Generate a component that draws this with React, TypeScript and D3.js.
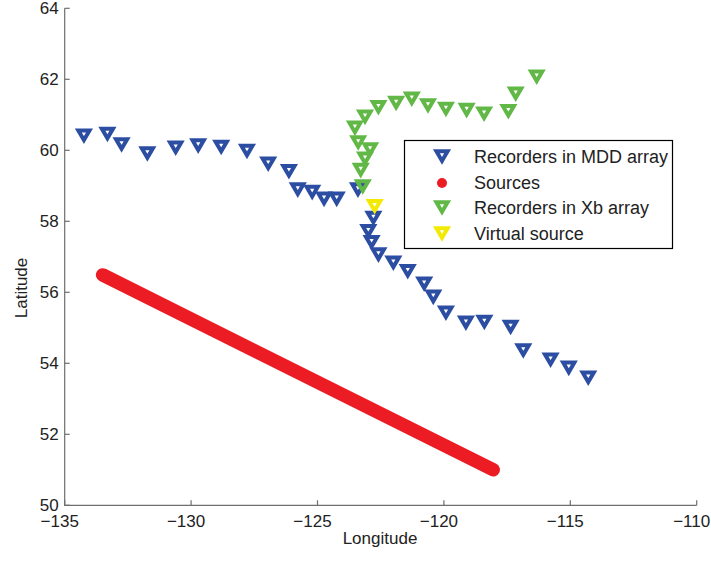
import React, { useEffect, useRef } from "react";
import * as d3 from "d3";

// Recorders in MDD array (lon, lat)
const mddLon = [
  -134.24, -133.31, -132.75, -131.73, -130.61, -129.72, -128.81, -127.79, -126.95, -126.13,
  -125.78, -125.21, -124.74, -124.24, -123.4, -122.79, -122.99, -122.86, -122.59, -122.0,
  -121.43, -120.78, -120.42, -119.92, -119.13, -118.4, -117.36, -116.86, -115.78, -115.06, -114.29,
];
const mddLat = [
  60.4, 60.45, 60.15, 59.9, 60.06, 60.12, 60.08, 59.97, 59.61, 59.4,
  58.88, 58.81, 58.62, 58.62, 58.88, 58.08, 57.71, 57.4, 57.05, 56.82,
  56.58, 56.23, 55.86, 55.41, 55.13, 55.15, 55.01, 54.35, 54.09, 53.86, 53.58,
];

// Recorders in Xb array
const xbLon = [
  -116.33, -117.16, -117.45, -118.41, -119.1, -119.92, -120.63, -121.27, -121.89,
  -122.59, -123.12, -123.52, -123.39, -122.92, -123.12, -123.29, -123.21,
];
const xbLat = [
  62.06, 61.58, 61.09, 61.02, 61.12, 61.15, 61.25, 61.44, 61.32,
  61.2, 60.93, 60.62, 60.21, 60.01, 59.75, 59.43, 58.97,
];

// Virtual source
const vsLon = [-122.74];
const vsLat = [58.41];

// Sources (line of shots, end points)
const srcLon = [-133.5, -118.05];
const srcLat = [56.49, 51.0];

const xTicks = [-135, -130, -125, -120, -115, -110];
const yTicks = [50, 52, 54, 56, 58, 60, 62, 64];

const legendItems = [
  { label: "Recorders in MDD array", color: "#2c4ea2", kind: "tri" },
  { label: "Sources", color: "#ec1c24", kind: "dot" },
  { label: "Recorders in Xb array", color: "#62b847", kind: "tri" },
  { label: "Virtual source", color: "#f2ea00", kind: "tri" },
];

const W = 711;
const H = 561;
const FONT = "'Liberation Sans', Arial, Helvetica, sans-serif";

// down triangle, bounding box centred on the point
const triPath = "M-5.6,-5.7L5.6,-5.7L0,3.9Z";

export default function App() {
  const ref = useRef<SVGSVGElement>(null);

  useEffect(() => {
    const svg = d3.select(ref.current);
    svg.selectAll("*").remove();

    const x = d3.scaleLinear().domain([-135, -110]).range([64.7, 696.7]);
    const y = d3.scaleLinear().domain([50, 64]).range([505.3, 8.3]);

    const axisColor = "#6e6e6e";
    const textColor = "#222";

    // axes (left + bottom only)
    svg
      .append("path")
      .attr("d", `M${x(-135)},${y(64)}V${y(50)}H${x(-110)}`)
      .attr("fill", "none")
      .attr("stroke", axisColor)
      .attr("stroke-width", 1.2);

    const gx = svg.append("g");
    xTicks.forEach((t) => {
      gx.append("line")
        .attr("x1", x(t))
        .attr("x2", x(t))
        .attr("y1", y(50))
        .attr("y2", y(50) - 5)
        .attr("stroke", axisColor)
        .attr("stroke-width", 1.2);
      gx.append("text")
        .attr("x", x(t) - 5)
        .attr("y", 527)
        .attr("text-anchor", "middle")
        .attr("font-family", FONT)
        .attr("font-size", 17)
        .attr("fill", textColor)
        .text(d3.format("")(t).replace("-", "\u2212"));
    });

    const gy = svg.append("g");
    yTicks.forEach((t) => {
      gy.append("line")
        .attr("x1", x(-135))
        .attr("x2", x(-135) + 5)
        .attr("y1", y(t))
        .attr("y2", y(t))
        .attr("stroke", axisColor)
        .attr("stroke-width", 1.2);
      gy.append("text")
        .attr("x", x(-135) - 6)
        .attr("y", y(t))
        .attr("dy", "0.36em")
        .attr("text-anchor", "end")
        .attr("font-family", FONT)
        .attr("font-size", 17)
        .attr("fill", textColor)
        .text(t);
    });

    svg
      .append("text")
      .attr("x", 380)
      .attr("y", 544)
      .attr("text-anchor", "middle")
      .attr("font-family", FONT)
      .attr("font-size", 17)
      .attr("fill", textColor)
      .text("Longitude");

    svg
      .append("text")
      .attr("transform", `translate(27,${288}) rotate(-90)`)
      .attr("text-anchor", "middle")
      .attr("font-family", FONT)
      .attr("font-size", 17)
      .attr("fill", textColor)
      .text("Latitude");

    // sources
    const src = srcLon.map((d, i) => [d, srcLat[i]] as [number, number]);
    svg
      .append("path")
      .attr("d", d3.line<[number, number]>().x((d) => x(d[0])).y((d) => y(d[1]))(src))
      .attr("fill", "none")
      .attr("stroke", "#ec1c24")
      .attr("stroke-width", 13.5)
      .attr("stroke-linecap", "round");

    const drawTri = (lons: number[], lats: number[], color: string) => {
      svg
        .append("g")
        .selectAll("path")
        .data(lons.map((d, i) => [d, lats[i]]))
        .join("path")
        .attr("d", triPath)
        .attr("transform", (d) => `translate(${x(d[0])},${y(d[1])})`)
        .attr("fill", "none")
        .attr("stroke", color)
        .attr("stroke-width", 4)
        .attr("stroke-linejoin", "miter");
    };

    drawTri(mddLon, mddLat, "#2c4ea2");
    drawTri(xbLon, xbLat, "#62b847");
    drawTri(vsLon, vsLat, "#f2ea00");

    // legend
    const lg = svg.append("g");
    lg.append("rect")
      .attr("x", 404.5)
      .attr("y", 140.5)
      .attr("width", 268)
      .attr("height", 108)
      .attr("fill", "#fff")
      .attr("stroke", "#000")
      .attr("stroke-width", 1.2);
    const rowY = [157, 183, 208, 234];
    legendItems.forEach((it, i) => {
      if (it.kind === "tri") {
        lg.append("path")
          .attr("d", triPath)
          .attr("transform", `translate(442,${rowY[i]})`)
          .attr("fill", "none")
          .attr("stroke", it.color)
          .attr("stroke-width", 4);
      } else {
        lg.append("circle")
          .attr("cx", 442)
          .attr("cy", rowY[i])
          .attr("r", 5)
          .attr("fill", it.color);
      }
      lg.append("text")
        .attr("x", 474)
        .attr("y", rowY[i])
        .attr("dy", "0.36em")
        .attr("font-family", FONT)
        .attr("font-size", 18)
        .attr("fill", textColor)
        .text(it.label);
    });
  }, []);

  return (
    <svg
      ref={ref}
      width={W}
      height={H}
      style={{ position: "absolute", left: 0, top: 0, background: "#fff" }}
    />
  );
}
